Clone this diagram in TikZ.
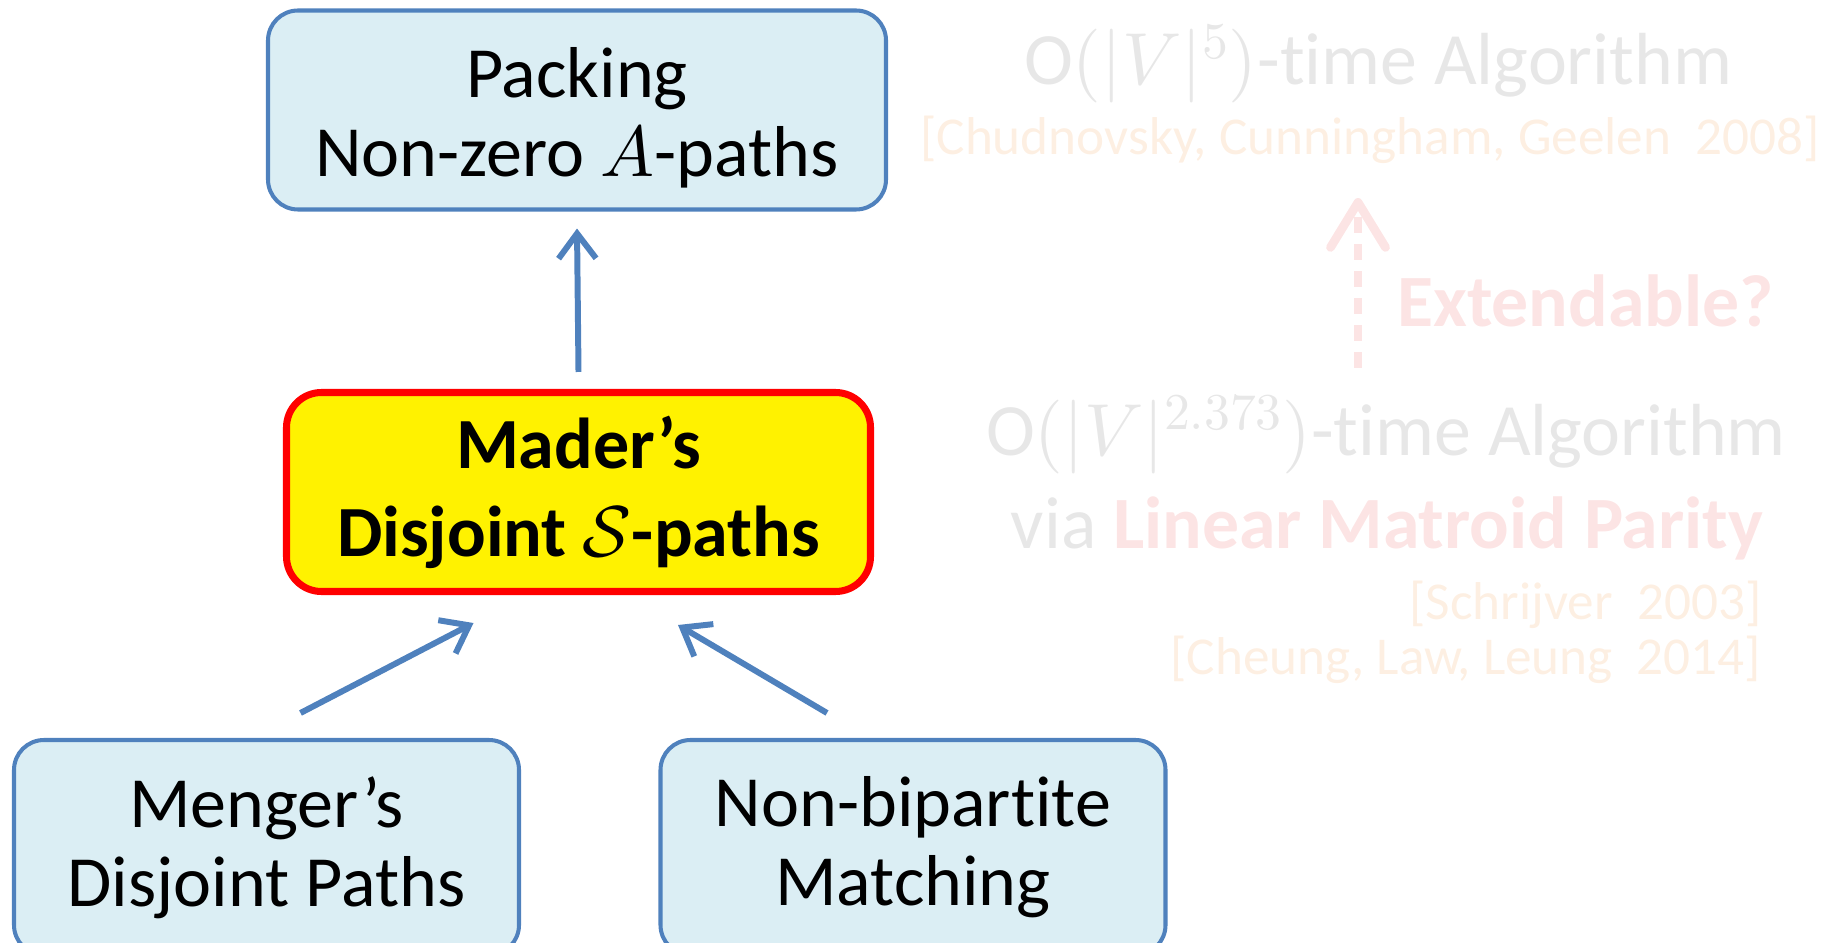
\documentclass[tikz,border=0pt]{standalone}
\DeclareFontShape{OML}{cmm}{m}{it}{<->cmmi10}{}
\DeclareFontShape{OMS}{cmsy}{m}{n}{<->cmsy10}{}
\DeclareFontShape{OT1}{cmr}{m}{n}{<->cmr10}{}
\usepackage{fontspec}
\setmainfont{Carlito}[Ligatures={TeX,NoCommon}]
\usetikzlibrary{arrows.meta}
\definecolor{boxblue}{HTML}{4F81BD}
\definecolor{boxfill}{HTML}{DBEEF4}
\definecolor{fadegray}{HTML}{E7E7E7}
\definecolor{fadepeach}{HTML}{FDEFE2}
\definecolor{fadepink}{HTML}{FCE4E4}
\tikzset{
  probbox/.style={draw=boxblue, line width=2.3pt, fill=boxfill, rounded corners=0.6cm,
    align=center, inner sep=0pt, minimum width=10.1cm, minimum height=4.3cm,
    font=\fontsize{41}{45}\selectfont},
  mainbox/.style={draw=red, line width=4pt, fill=yellow, rounded corners=0.7cm,
    align=center, inner sep=0pt, font=\fontsize{41}{50}\selectfont\bfseries},
  reduce/.style={draw=boxblue, line width=3.4pt, -{Straight Barb[length=0.5cm,width=0.75cm]}},
  faded/.style={text=fadegray, font=\fontsize{42}{46}\selectfont},
  cite/.style={text=fadepeach, font=\fontsize{30.3}{35}\selectfont},
}
\begin{document}
\begin{tikzpicture}[line join=round]
  \useasboundingbox (0,0) rectangle (36.64,-18.86);
  \path
  (27.16,-7.36) coordinate (extlow)
  (27.16,-3.96) coordinate (exthigh)
  ;
  \node[probbox, minimum width=12.36cm, minimum height=3.98cm] (packing) at (11.54,-2.2)
    {\rule{0pt}{1.32cm}Packing\\Non-zero $A$-paths};
  \node[mainbox, minimum width=11.68cm, minimum height=3.98cm] (mader) at (11.57,-9.84)
    {Mader’s\\Disjoint $\mathcal{S}$-paths};
  \node[probbox] (menger) at (5.33,-16.95) {Menger’s\\Disjoint Paths};
  \node[probbox] (nonbip) at (18.26,-16.95) {Non-bipartite\\Matching};
  \draw[reduce] ([yshift=0.34cm]mader.north) -- ([yshift=-0.34cm]packing.south);
  \draw[reduce] ([xshift=0.68cm,yshift=0.5cm]menger.north) -- ([xshift=-2.1cm,yshift=-0.56cm]mader.south);
  \draw[reduce] ([xshift=-1.72cm,yshift=0.5cm]nonbip.north) -- ([xshift=1.99cm,yshift=-0.6cm]mader.south);
  % faded part on the right
  \node[faded] (algoA) at (27.56,-1.28) {$\mathrm{O}\bigl(|V|^{5}\bigr)$-time Algorithm};
  \node[cite] (citeA) at (27.4,-2.8) {[Chudnovsky, Cunningham, Geelen\ \ 2008]};
  \draw[fadepink, line width=5pt, dash pattern=on 0.32cm off 0.22cm,
    -{Straight Barb[length=0.9cm,width=1.1cm,round]}] (extlow) -- (exthigh);
  \node[anchor=west, text=fadepink, font=\fontsize{42}{46}\selectfont\bfseries] (ext) at (27.82,-6.02) {Extendable?};
  \node[faded] (algoB) at (27.72,-8.7) {$\mathrm{O}\bigl(|V|^{2.373}\bigr)$-time Algorithm};
  \node[faded] (via) at (27.74,-10.56) {via \textbf{\textcolor{fadepink}{Linear Matroid Parity}}};
  \node[cite, anchor=east] (citeB) at (35.35,-12.1) {[Schrijver\ \ 2003]};
  \node[cite, anchor=east] (citeC) at (35.35,-13.2) {[Cheung, Law, Leung\ \ 2014]};
\end{tikzpicture}
\end{document}
